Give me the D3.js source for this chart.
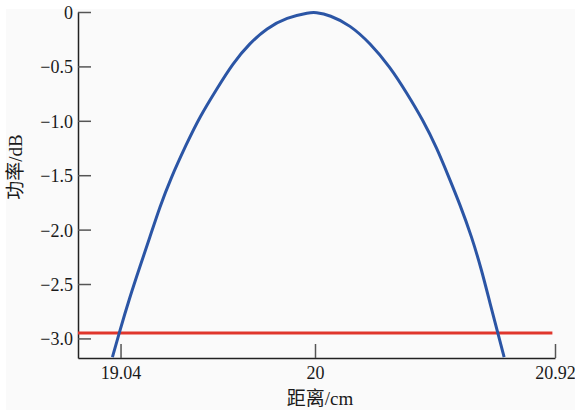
<!DOCTYPE html>
<html>
<head>
<meta charset="utf-8">
<script src="https://cdn.jsdelivr.net/npm/d3@7"></script>
<style>
  html, body { margin: 0; padding: 0; background: #ffffff; }
  svg { display: block; }
</style>
</head>
<body>
<svg id="chart" width="575" height="410"></svg>
<script>
// distance (cm) and power (dB)
const distance = [19.00, 19.033, 19.086, 19.135, 19.185, 19.234, 19.284, 19.366, 19.432, 19.514,
    19.595, 19.679, 19.761, 19.860, 19.975, 20.0, 20.057, 20.134, 20.211, 20.288, 20.352, 20.414,
    20.467, 20.510, 20.556, 20.601, 20.639, 20.671, 20.701, 20.725];
const power = [-3.172, -2.951, -2.620, -2.344, -2.068, -1.792, -1.546, -1.21, -0.96, -0.71,
    -0.469, -0.285, -0.150, -0.050, -0.004, -0.002, -0.028, -0.120, -0.285, -0.506, -0.745, -0.994,
    -1.250, -1.500, -1.770, -2.068, -2.374, -2.678, -2.951, -3.172];
const threshold = -2.95;
const thresholdSpan = [18.83, 20.91];
const xTicks = [19.04, 20, 20.92];
const yTicks = [0, -0.5, -1.0, -1.5, -2.0, -2.5, -3.0];

const FONT = '"Liberation Serif", "Times New Roman", "Noto Sans CJK SC", serif';

const svg = d3.select('#chart');
svg.append('rect').attr('x', 6).attr('y', 9).attr('width', 569).attr('height', 401)
    .attr('fill', '#fafafa');

// the original axis is not uniform: 20.92 sits at the end of the axis
const x = d3.scaleLinear().domain([18.83, 20, 20.92]).range([78, 315, 555]);
const y = d3.scaleLinear().domain([-3.18, 0]).range([358, 12]);

svg.append('defs').append('clipPath').attr('id', 'clip')
    .append('rect').attr('x', 78).attr('y', 0).attr('width', 480).attr('height', 358);

const fmtY = d => (d === 0 ? '0' : d3.format('.1f')(d).replace('-', '\u2212'));

const yAxis = svg.append('g')
    .attr('transform', 'translate(78,0)')
    .call(d3.axisLeft(y).tickValues(yTicks).tickFormat(fmtY)
        .tickSize(-13).tickSizeOuter(0).tickPadding(5));
yAxis.attr('font-family', FONT).attr('font-size', 18);
yAxis.selectAll('text').attr('dy', '0.36em');

const xAxis = svg.append('g')
    .attr('transform', 'translate(0,358)')
    .call(d3.axisBottom(x).tickValues(xTicks).tickFormat(d => String(d))
        .tickSize(-14).tickSizeOuter(0).tickPadding(8));
xAxis.attr('font-family', FONT).attr('font-size', 18);

svg.selectAll('.tick text').attr('fill', '#1a1a1a');
svg.selectAll('.domain').attr('stroke', '#222').attr('stroke-width', 1.5);
svg.selectAll('.tick line').attr('stroke', '#555').attr('stroke-width', 1.5);

// -3 dB reference line
svg.append('line')
    .attr('x1', x(thresholdSpan[0])).attr('x2', x(thresholdSpan[1]))
    .attr('y1', y(threshold)).attr('y2', y(threshold))
    .attr('stroke', '#e0362c').attr('stroke-width', 3);

const line = d3.line()
    .x((d, i) => x(distance[i]))
    .y(d => y(d))
    .curve(d3.curveBasis);

svg.append('path')
    .attr('clip-path', 'url(#clip)')
    .attr('d', line(power))
    .attr('fill', 'none')
    .attr('stroke', '#2b55a5')
    .attr('stroke-width', 3);

svg.append('text')
    .attr('x', 320).attr('y', 405)
    .attr('text-anchor', 'middle')
    .attr('font-family', FONT).attr('font-size', 19).attr('fill', '#1a1a1a')
    .text('距离/cm');

svg.append('text')
    .attr('transform', 'translate(22,167) rotate(-90)')
    .attr('text-anchor', 'middle')
    .attr('font-family', FONT).attr('font-size', 19).attr('fill', '#1a1a1a')
    .text('功率/dB');
</script>
</body>
</html>
